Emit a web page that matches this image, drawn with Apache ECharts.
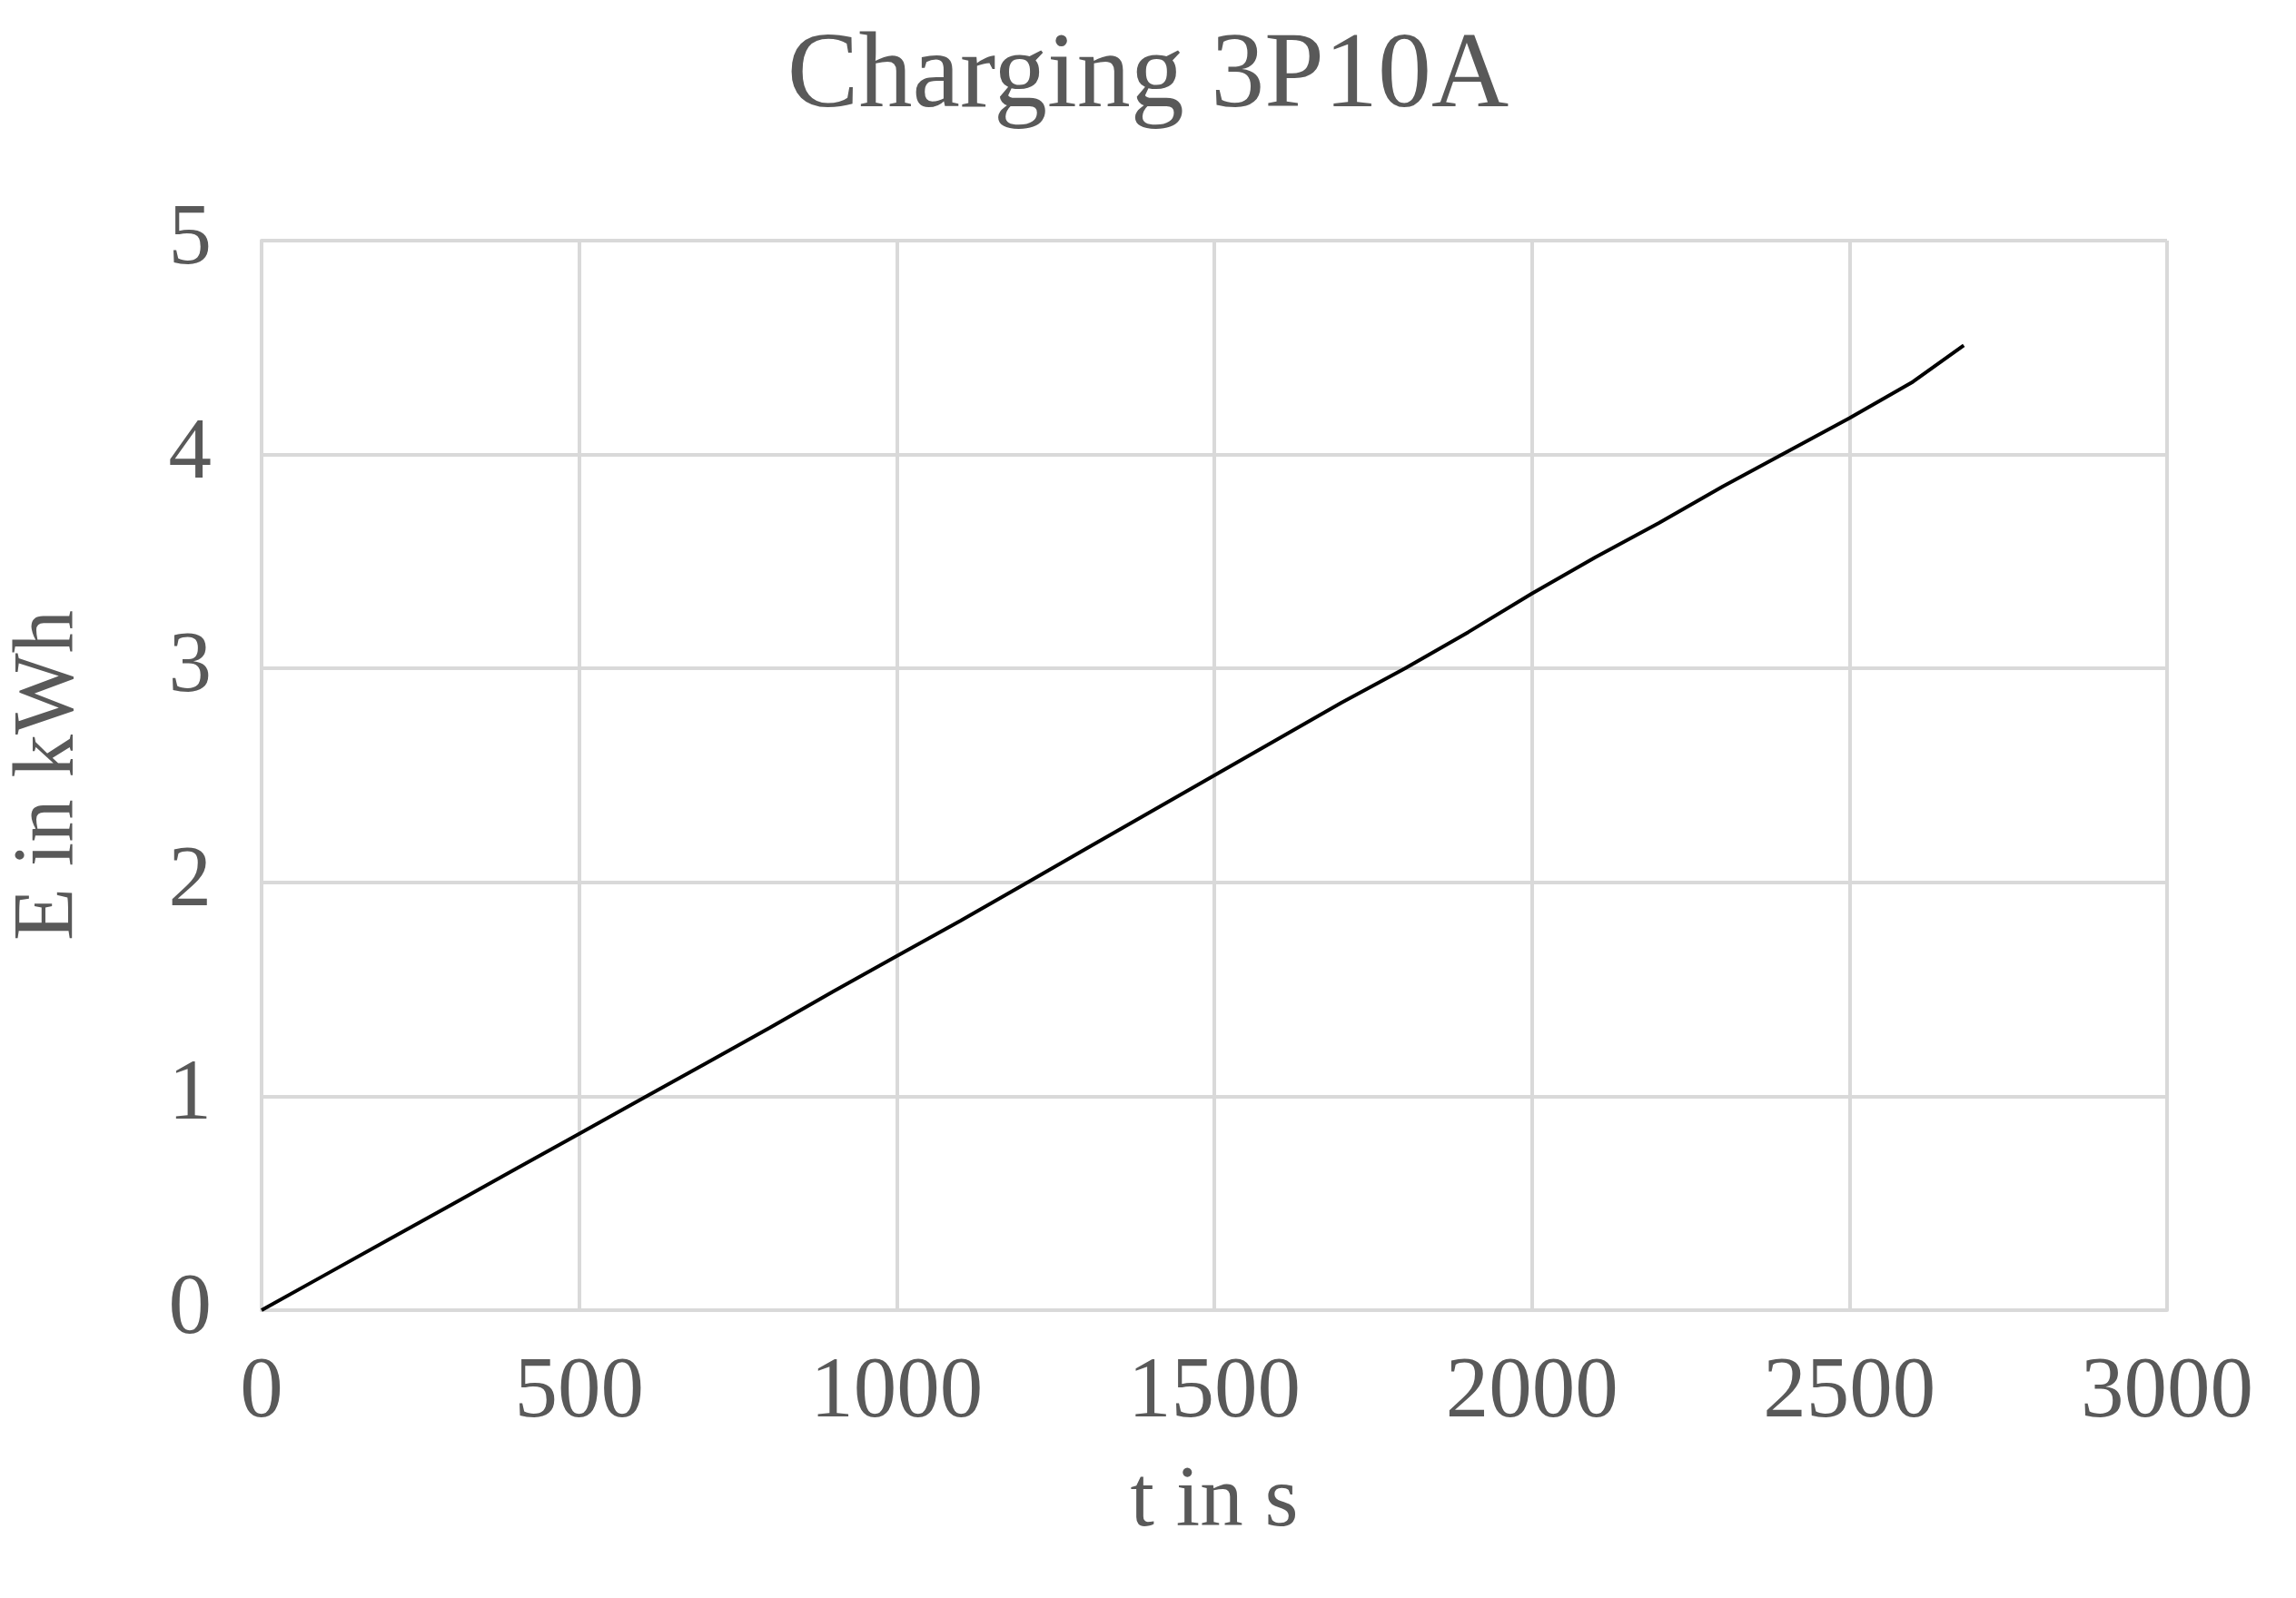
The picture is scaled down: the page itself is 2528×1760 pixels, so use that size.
<!DOCTYPE html>
<html>
<head>
<meta charset="utf-8">
<script src="https://cdn.jsdelivr.net/npm/echarts@6/dist/echarts.min.js"></script>
<style>
  html, body { margin: 0; padding: 0; background: #fff; }
  #chart { width: 2528px; height: 1760px; }
</style>
</head>
<body>
<div id="chart"></div>
<script>
// 数据
var timeS = [0, 100, 200, 300, 400, 500, 600, 700, 800, 900, 1000, 1100, 1200, 1300,
  1400, 1500, 1600, 1700, 1800, 1900, 2000, 2100, 2200, 2300, 2400, 2500, 2600, 2680];
var energyKWh = [0, 0.165, 0.33, 0.495, 0.66, 0.825, 0.99, 1.155, 1.32, 1.49, 1.655, 1.82,
  1.99, 2.16, 2.33, 2.5, 2.67, 2.84, 3.0, 3.17, 3.35, 3.52, 3.68, 3.85, 4.01, 4.17, 4.34, 4.51];

var myChart = echarts.init(document.getElementById('chart'));
var font = '"Liberation Serif", "Times New Roman", serif';
var grey = '#595959';
var option = {
  backgroundColor: '#fff',
  animation: false,
  title: {
    text: 'Charging 3P10A',
    left: 'center',
    top: 22,
    textStyle: { fontFamily: font, fontWeight: 'normal', color: grey, fontSize: 118 }
  },
  grid: { left: 285, right: 142, top: 265, bottom: 317 },
  xAxis: {
    type: 'value',
    min: 0, max: 3000, interval: 500,
    name: 't in s',
    nameLocation: 'middle',
    nameGap: 165,
    nameTextStyle: { fontFamily: font, color: grey, fontSize: 95 },
    axisLine: { show: true, lineStyle: { color: '#d9d9d9', width: 4 } },
    axisTick: { show: false },
    axisLabel: { fontFamily: font, color: grey, fontSize: 95, margin: 45,
      formatter: function (v) { return String(v); } },
    splitLine: { show: true, lineStyle: { color: '#d9d9d9', width: 4 } }
  },
  yAxis: {
    type: 'value',
    min: 0, max: 5, interval: 1,
    name: 'E in kWh',
    nameLocation: 'middle',
    nameGap: 185,
    nameTextStyle: { fontFamily: font, color: grey, fontSize: 95 },
    axisLine: { show: true, lineStyle: { color: '#d9d9d9', width: 4 } },
    axisTick: { show: false },
    axisLabel: { fontFamily: font, color: grey, fontSize: 95, margin: 55 },
    splitLine: { show: true, lineStyle: { color: '#d9d9d9', width: 4 } }
  },
  series: [{
    type: 'line',
    showSymbol: false,
    lineStyle: { color: '#000', width: 4 },
    data: timeS.map(function (t, i) { return [t, energyKWh[i]]; })
  }]
};
myChart.setOption(option);
</script>
</body>
</html>
